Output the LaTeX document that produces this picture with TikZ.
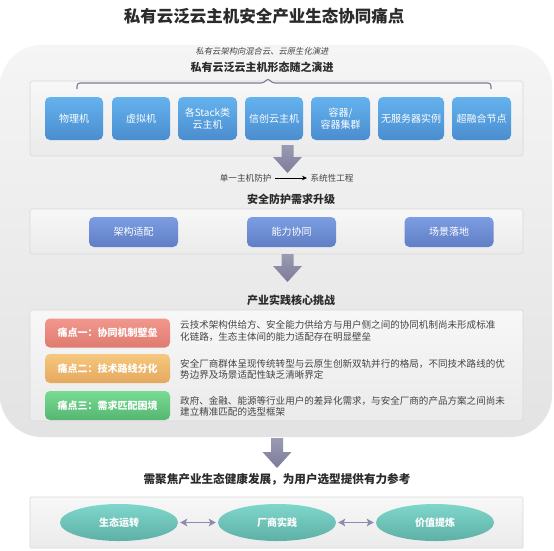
\documentclass[tikz,border=0pt]{standalone}
\usepackage{fontspec}
\setmainfont{Noto Sans CJK SC}
\newfontfamily\slantcjk{Noto Sans CJK SC}[FakeSlant=0.2]
\usetikzlibrary{shapes.geometric,arrows.meta}

\definecolor{inkdark}{HTML}{2B2B2B}
\definecolor{inkgray}{HTML}{444444}
\definecolor{panelline}{HTML}{D9D9D9}
\definecolor{arrowtop}{HTML}{9C9BB4}
\definecolor{arrowbot}{HTML}{7C7B99}
\definecolor{duplexcol}{HTML}{8F8AB0}
\definecolor{hosttop}{HTML}{64B2EE}
\definecolor{hostbot}{HTML}{4A8DCF}
\definecolor{needtop}{HTML}{7D9DE3}
\definecolor{needbot}{HTML}{5F7EC3}
\definecolor{pilltop}{HTML}{7FD6CA}
\definecolor{pillbot}{HTML}{5DB0A5}
\definecolor{redtop}{HTML}{F2978D}
\definecolor{redbot}{HTML}{DF7A70}
\definecolor{ambertop}{HTML}{F6C87E}
\definecolor{amberbot}{HTML}{E5A85F}
\definecolor{greentop}{HTML}{78DB93}
\definecolor{greenbot}{HTML}{55B671}

% block arrow: centre x, shaft top, head top
\newcommand\blockarrow[3]{%
  \shade[top color=arrowtop, bottom color=arrowbot]
    (#1-6,#2) -- (#1+6,#2) -- (#1+6,#3) -- (#1+14.5,#3) -- (#1,#3+16)
    -- (#1-14.5,#3) -- (#1-6,#3) -- cycle;}

\begin{document}
\begin{tikzpicture}[x=1pt,y=-1pt,
    headline/.style={font=\fontsize{16.5}{18}\selectfont\bfseries, text=inkdark},
    sectitle/.style={font=\fontsize{11}{13}\selectfont\bfseries, text=inkdark},
    panel/.style={draw=panelline, line width=0.6pt, rounded corners=2.5pt,
                  top color=white!97!black, bottom color=white!92!black},
    tile/.style={rounded corners=5pt, text=white, align=center, inner sep=1pt,
                 font=\fontsize{10}{12}\selectfont},
    hostbox/.style={tile, top color=hosttop, bottom color=hostbot,
                    minimum height=43pt},
    needbox/.style={tile, top color=needtop, bottom color=needbot,
                    minimum width=89pt, minimum height=30pt},
    painbox/.style={tile, font=\fontsize{10}{12}\selectfont\bfseries,
                    minimum width=125pt, minimum height=29pt},
    paintext/.style={anchor=west, align=left, text=inkgray, inner sep=0pt,
                     font=\fontsize{9.55}{11.6}\selectfont},
    pillnode/.style={ellipse, inner sep=0pt, minimum width=118pt, minimum height=37pt,
                     top color=pilltop, bottom color=pillbot, text=white,
                     font=\fontsize{10}{12}\selectfont\bfseries},
    duplex/.style={{Stealth[length=7pt,width=7.5pt,inset=1.5pt]}-{Stealth[length=7pt,width=7.5pt,inset=1.5pt]},
                   draw=duplexcol, line width=1.8pt, shorten >=2pt, shorten <=2pt}
  ]
\useasboundingbox (0,0) rectangle (554,550);
\fill[white] (0,0) rectangle (554,550);

\node[headline] (title) at (264,16) {私有云泛云主机安全产业生态协同痛点};

% big background
\shade[top color=white!96!black, bottom color=white!89!black, rounded corners=42pt]
  (0,45) rectangle (552,437);

% ---- stage 1
\node[font=\fontsize{8.3}{10}\selectfont\slantcjk, text=inkgray] (trend) at (262,51) {私有云架构向混合云、云原生化演进};
\node[sectitle] (formtitle) at (262,67) {私有云泛云主机形态随之演进};
\draw[panel] (30,81) rectangle (523,156);
\draw[arrowbot, line width=1.1pt, rounded corners=3pt]
  (77,89) -- (77,83) -- (264,83) -- (268,78) -- (272,83) -- (491,83) -- (491,89);
\foreach \cx/\w/\txt [count=\i] in {74/58/物理机, 141/58/虚拟机,
    207.5/59/{各Stack类\\云主机}, 274/58/信创云主机, 340.5/59/{容器/\\容器集群},
    411/66/无服务器实例, 481.5/59/超融合节点}
  \node[hostbox, minimum width=\w pt] (host\i) at (\cx,118.5) {\txt};

\blockarrow{287.5}{145}{157}
\node[font=\fontsize{8.6}{10}\selectfont, text=inkgray, anchor=east] (single) at (275,178) {单一主机防护};
\node[font=\fontsize{8.6}{10}\selectfont, text=inkgray, anchor=west] (system) at (307,178) {系统性工程};
\draw[-{Stealth[length=5pt,width=4.5pt]}, line width=0.8pt, black] (single) -- (system);

% ---- stage 2
\node[sectitle] (needtitle) at (291,199) {安全防护需求升级};
\draw[panel] (30,209) rectangle (523,254);
\node[needbox] (need1) at (133.5,232) {架构适配};
\node[needbox] (need2) at (291.5,232) {能力协同};
\node[needbox] (need3) at (449,232) {场景落地};

\blockarrow{287.5}{254}{266}

% ---- stage 3
\node[sectitle] (paintitle) at (291,300) {产业实践核心挑战};
\draw[panel] (30,310) rectangle (523,421);
\node[painbox, top color=redtop, bottom color=redbot] (pain1) at (107.5,333) {痛点一：协同机制壁垒};
\node[painbox, top color=ambertop, bottom color=amberbot] (pain2) at (107.5,368.5) {痛点二：技术路线分化};
\node[painbox, top color=greentop, bottom color=greenbot] (pain3) at (107.5,405.5) {痛点三：需求匹配困境};
\node[paintext] (desc1) at (180,331) {云技术架构供给方、安全能力供给方与用户侧之间的协同机制尚未形成标准\\化链路，生态主体间的能力适配存在明显壁垒};
\node[paintext] (desc2) at (180,369.5) {安全厂商群体呈现传统转型与云原生创新双轨并行的格局，不同技术路线的优\\势边界及场景适配性缺乏清晰界定};
\node[paintext] (desc3) at (180,406.5) {政府、金融、能源等行业用户的差异化需求，与安全厂商的产品方案之间尚未\\建立精准匹配的选型框架};

\blockarrow{277}{438}{452}

% ---- outcome
\node[font=\fontsize{11.6}{13}\selectfont\bfseries, text=inkdark] (goal) at (277,479) {需聚焦产业生态健康发展，为用户选型提供有力参考};
\draw[panel, rounded corners=1pt] (30,497) rectangle (523,548);
\node[pillnode] (eco) at (119,522.5) {生态运转};
\node[pillnode] (vendor) at (277,522.5) {厂商实践};
\node[pillnode] (value) at (435,522.5) {价值提炼};
\draw[duplex] (eco) -- (vendor);
\draw[duplex] (vendor) -- (value);
\end{tikzpicture}
\end{document}
